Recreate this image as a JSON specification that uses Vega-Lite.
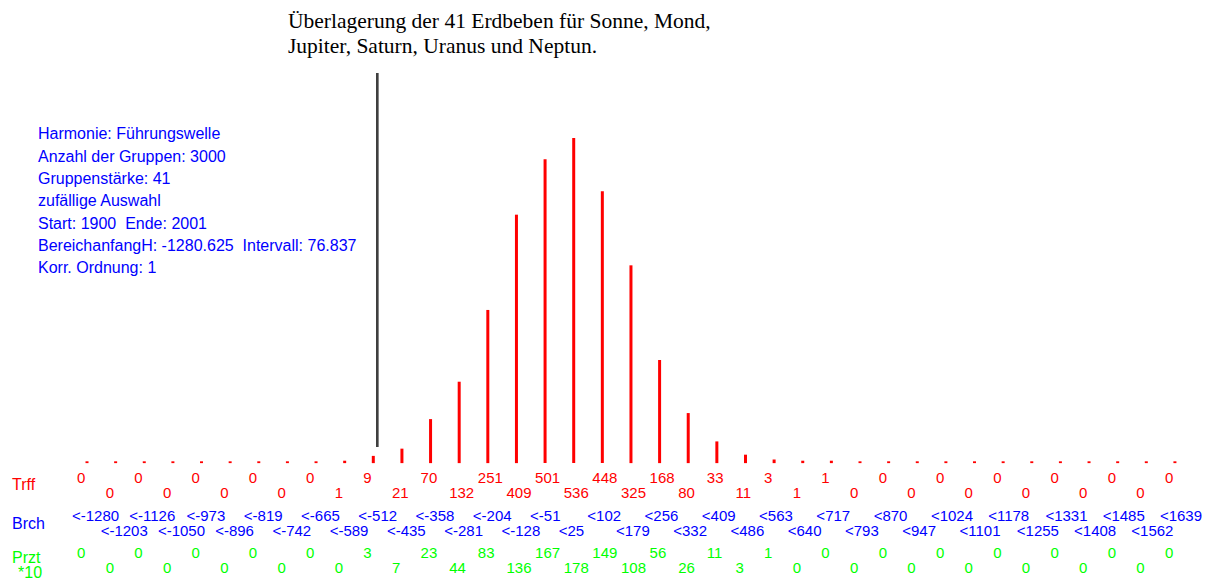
{
  "$schema": "https://vega.github.io/schema/vega-lite/v6.json",
  "width": 1211,
  "height": 583,
  "padding": 0,
  "autosize": {"type": "none"},
  "background": "white",
  "config": {"view": {"stroke": null}},
  "datasets": {
    "bins": [
      {"i": 1, "brch": "<-1280", "trff": 0, "przt": 0},
      {"i": 2, "brch": "<-1203", "trff": 0, "przt": 0},
      {"i": 3, "brch": "<-1126", "trff": 0, "przt": 0},
      {"i": 4, "brch": "<-1050", "trff": 0, "przt": 0},
      {"i": 5, "brch": "<-973", "trff": 0, "przt": 0},
      {"i": 6, "brch": "<-896", "trff": 0, "przt": 0},
      {"i": 7, "brch": "<-819", "trff": 0, "przt": 0},
      {"i": 8, "brch": "<-742", "trff": 0, "przt": 0},
      {"i": 9, "brch": "<-665", "trff": 0, "przt": 0},
      {"i": 10, "brch": "<-589", "trff": 1, "przt": 0},
      {"i": 11, "brch": "<-512", "trff": 9, "przt": 3},
      {"i": 12, "brch": "<-435", "trff": 21, "przt": 7},
      {"i": 13, "brch": "<-358", "trff": 70, "przt": 23},
      {"i": 14, "brch": "<-281", "trff": 132, "przt": 44},
      {"i": 15, "brch": "<-204", "trff": 251, "przt": 83},
      {"i": 16, "brch": "<-128", "trff": 409, "przt": 136},
      {"i": 17, "brch": "<-51", "trff": 501, "przt": 167},
      {"i": 18, "brch": "<25", "trff": 536, "przt": 178},
      {"i": 19, "brch": "<102", "trff": 448, "przt": 149},
      {"i": 20, "brch": "<179", "trff": 325, "przt": 108},
      {"i": 21, "brch": "<256", "trff": 168, "przt": 56},
      {"i": 22, "brch": "<332", "trff": 80, "przt": 26},
      {"i": 23, "brch": "<409", "trff": 33, "przt": 11},
      {"i": 24, "brch": "<486", "trff": 11, "przt": 3},
      {"i": 25, "brch": "<563", "trff": 3, "przt": 1},
      {"i": 26, "brch": "<640", "trff": 1, "przt": 0},
      {"i": 27, "brch": "<717", "trff": 1, "przt": 0},
      {"i": 28, "brch": "<793", "trff": 0, "przt": 0},
      {"i": 29, "brch": "<870", "trff": 0, "przt": 0},
      {"i": 30, "brch": "<947", "trff": 0, "przt": 0},
      {"i": 31, "brch": "<1024", "trff": 0, "przt": 0},
      {"i": 32, "brch": "<1101", "trff": 0, "przt": 0},
      {"i": 33, "brch": "<1178", "trff": 0, "przt": 0},
      {"i": 34, "brch": "<1255", "trff": 0, "przt": 0},
      {"i": 35, "brch": "<1331", "trff": 0, "przt": 0},
      {"i": 36, "brch": "<1408", "trff": 0, "przt": 0},
      {"i": 37, "brch": "<1485", "trff": 0, "przt": 0},
      {"i": 38, "brch": "<1562", "trff": 0, "przt": 0},
      {"i": 39, "brch": "<1639", "trff": 0, "przt": 0}
    ],
    "info": [
      {"txt": ["Harmonie: Führungswelle", "Anzahl der Gruppen: 3000", "Gruppenstärke: 41", "zufällige Auswahl", "Start: 1900\u00a0 Ende: 2001", "BereichanfangH: -1280.625\u00a0 Intervall: 76.837", "Korr. Ordnung: 1"]}
    ],
    "heading": [
      {"txt": ["Überlagerung der 41 Erdbeben für Sonne, Mond,", "Jupiter, Saturn, Uranus und Neptun."]}
    ]
  },
  "layer": [
    {
      "data": {"name": "bins"},
      "mark": {"type": "rule", "color": "#404040", "strokeWidth": 2},
      "encoding": {
        "x": {"datum": 11.13, "type": "quantitative", "axis": null,
              "scale": {"domain": [-2.039, 40.26], "nice": false, "zero": false}},
        "y": {"datum": 644, "type": "quantitative", "axis": null,
              "scale": {"domain": [-201.8, 765.0], "nice": false, "zero": false}},
        "y2": {"datum": 23.7}
      }
    },
    {
      "data": {"name": "bins"},
      "mark": {"type": "rule", "color": "#ff0000", "strokeWidth": 3, "strokeCap": "butt"},
      "encoding": {
        "x": {"field": "i", "type": "quantitative"},
        "y": {"field": "trff", "type": "quantitative"},
        "y2": {"datum": -3}
      }
    },
    {
      "data": {"name": "bins"},
      "transform": [{"filter": "datum.i % 2 == 1"}],
      "mark": {"type": "text", "color": "#ff0000", "font": "Liberation Sans", "fontSize": 15, "align": "left", "baseline": "middle", "dx": -10},
      "encoding": {"x": {"field": "i", "type": "quantitative"}, "text": {"field": "trff"}, "y": {"datum": -26.9, "type": "quantitative"}}
    },
    {
      "data": {"name": "bins"},
      "transform": [{"filter": "datum.i % 2 == 0"}],
      "mark": {"type": "text", "color": "#ff0000", "font": "Liberation Sans", "fontSize": 15, "align": "left", "baseline": "middle", "dx": -10},
      "encoding": {"x": {"field": "i", "type": "quantitative"}, "text": {"field": "trff"}, "y": {"datum": -52.6, "type": "quantitative"}}
    },
    {
      "data": {"name": "bins"},
      "transform": [{"filter": "datum.i % 2 == 1"}],
      "mark": {"type": "text", "color": "#0000ff", "font": "Liberation Sans", "fontSize": 15, "align": "left", "baseline": "middle", "dx": -15},
      "encoding": {"x": {"field": "i", "type": "quantitative"}, "text": {"field": "brch"}, "y": {"datum": -89.9, "type": "quantitative"}}
    },
    {
      "data": {"name": "bins"},
      "transform": [{"filter": "datum.i % 2 == 0"}],
      "mark": {"type": "text", "color": "#0000ff", "font": "Liberation Sans", "fontSize": 15, "align": "left", "baseline": "middle", "dx": -15},
      "encoding": {"x": {"field": "i", "type": "quantitative"}, "text": {"field": "brch"}, "y": {"datum": -115.6, "type": "quantitative"}}
    },
    {
      "data": {"name": "bins"},
      "transform": [{"filter": "datum.i % 2 == 1"}],
      "mark": {"type": "text", "color": "#00ff00", "font": "Liberation Sans", "fontSize": 15, "align": "left", "baseline": "middle", "dx": -10},
      "encoding": {"x": {"field": "i", "type": "quantitative"}, "text": {"field": "przt"}, "y": {"datum": -152.1, "type": "quantitative"}}
    },
    {
      "data": {"name": "bins"},
      "transform": [{"filter": "datum.i % 2 == 0"}],
      "mark": {"type": "text", "color": "#00ff00", "font": "Liberation Sans", "fontSize": 15, "align": "left", "baseline": "middle", "dx": -10},
      "encoding": {"x": {"field": "i", "type": "quantitative"}, "text": {"field": "przt"}, "y": {"datum": -177.0, "type": "quantitative"}}
    },
    {
      "data": {"values": [
        {"label": "Trff", "c": "#ff0000", "lx": -1.62, "ly": -39.3},
        {"label": "Brch", "c": "#0000ff", "lx": -1.62, "ly": -103.3},
        {"label": "Przt", "c": "#00ff00", "lx": -1.62, "ly": -159.6},
        {"label": "*10", "c": "#00ff00", "lx": -1.41, "ly": -184.4}
      ]},
      "mark": {"type": "text", "font": "Liberation Sans", "fontSize": 16, "align": "left", "baseline": "middle"},
      "encoding": {
        "x": {"field": "lx", "type": "quantitative"},
        "y": {"field": "ly", "type": "quantitative"},
        "text": {"field": "label"},
        "color": {"field": "c", "type": "nominal", "scale": null}
      }
    },
    {
      "data": {"name": "info"},
      "mark": {"type": "text", "font": "Liberation Sans", "fontSize": 16, "color": "#0000ff", "align": "left", "baseline": "top", "lineHeight": 22.3},
      "encoding": {
        "x": {"datum": -0.712, "type": "quantitative"},
        "y": {"datum": 555.5, "type": "quantitative"},
        "text": {"field": "txt"}
      }
    },
    {
      "data": {"name": "heading"},
      "mark": {"type": "text", "font": "Liberation Serif", "fontSize": 21.5, "color": "#000000", "align": "left", "baseline": "alphabetic", "lineHeight": 25},
      "encoding": {
        "x": {"datum": 8.02, "type": "quantitative"},
        "y": {"datum": 719.1, "type": "quantitative"},
        "text": {"field": "txt"}
      }
    }
  ]
}
